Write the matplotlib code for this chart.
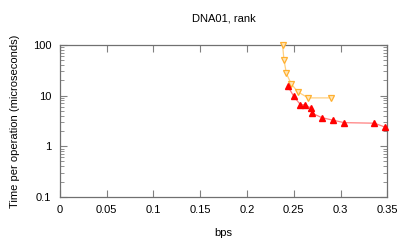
import matplotlib
matplotlib.use("Agg")
import matplotlib.pyplot as plt
from matplotlib.ticker import FixedLocator, LogLocator, NullFormatter

plt.rcParams['font.family'] = ['Liberation Sans', 'DejaVu Sans']
plt.rcParams['font.size'] = 8

# orange series (down triangles)
orange_x = [0.238, 0.2394, 0.242, 0.247, 0.2543, 0.2654, 0.2896]
orange_y = [98, 51, 27.5, 17.2, 11.8, 9.0, 9.0]

# red series (up triangles)
red_x = [0.2433, 0.2497, 0.257, 0.2618, 0.268, 0.2693, 0.28, 0.292, 0.3038, 0.336, 0.347, 0.356]
red_y = [15.5, 9.8, 6.6, 6.6, 5.7, 4.5, 3.66, 3.26, 2.92, 2.85, 2.4, 2.3]

x_ticks = [0, 0.05, 0.1, 0.15, 0.2, 0.25, 0.3, 0.35]
x_labels = ['0', '0.05', '0.1', '0.15', '0.2', '0.25', '0.3', '0.35']
y_ticks = [0.1, 1, 10, 100]
y_labels = ['0.1', '1', '10', '100']

fig = plt.figure(figsize=(4.07, 2.44), dpi=100)
ax = fig.add_axes([0.147, 0.193, 0.805, 0.623])

ax.plot(orange_x, orange_y, color='#ffd080', lw=0.9, zorder=2)
ax.plot(orange_x, orange_y, ls='none', marker='v', ms=3.8, mfc='#ffe6b8',
        mec='#ffb030', mew=0.9, zorder=3, clip_on=False)
ax.plot(red_x, red_y, color='#ff8080', lw=0.9, zorder=2)
ax.plot(red_x[:-1], red_y[:-1], ls='none', marker='^', ms=3.8, color='#ff0000',
        zorder=3, clip_on=False)

ax.set_yscale('log')
ax.set_xlim(0, 0.35)
ax.set_ylim(0.1, 100)

ax.xaxis.set_major_locator(FixedLocator(x_ticks))
ax.set_xticklabels(x_labels)
ax.yaxis.set_major_locator(FixedLocator(y_ticks))
ax.set_yticklabels(y_labels)
ax.yaxis.set_minor_locator(LogLocator(base=10, subs=range(2, 10)))
ax.yaxis.set_minor_formatter(NullFormatter())

for s in ax.spines.values():
    s.set_color('#707070')
    s.set_linewidth(0.9)
ax.tick_params(which='both', direction='in', top=True, right=True,
               color='#808080', labelcolor='black', pad=6)
ax.tick_params(which='major', length=5, width=0.8)
ax.tick_params(which='minor', length=3, width=0.6)

ax.set_title('DNA01, rank', fontsize=8, pad=17)
ax.set_xlabel('bps', labelpad=9)
ax.set_ylabel('Time per operation (microseconds)', labelpad=9)

fig.savefig('out.png', dpi=100)
